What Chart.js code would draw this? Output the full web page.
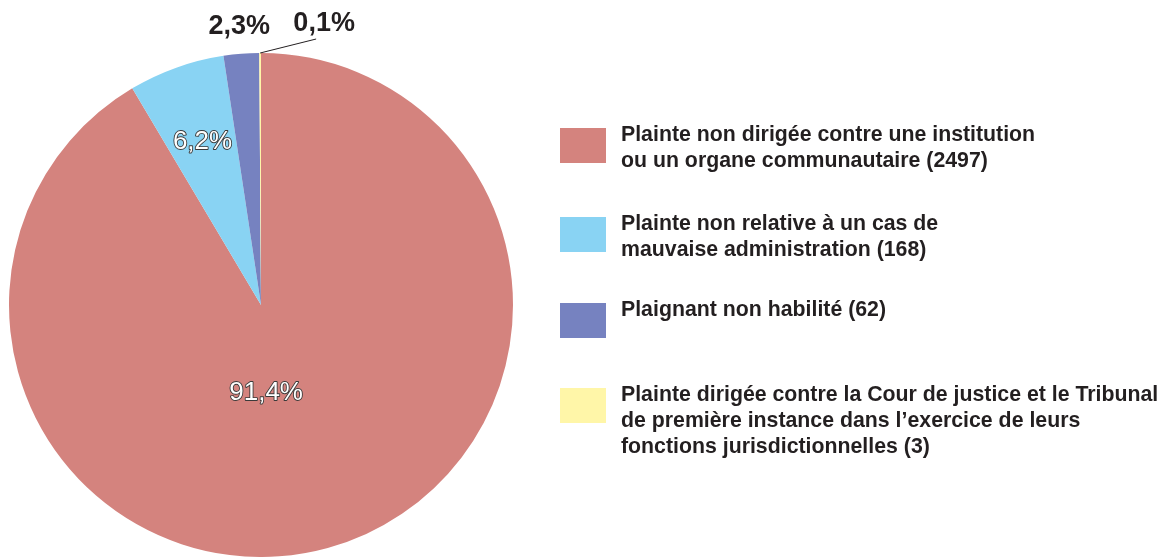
<!DOCTYPE html>
<html lang="fr">
<head>
  <meta charset="UTF-8">
  <title>Plaintes hors du mandat</title>
  <script src="https://cdn.jsdelivr.net/npm/chart.js"></script>
  <style>
    body {
      margin: 0;
      background: #ffffff;
    }
    #wrap {
      width: 1162px;
      height: 557px;
    }
  </style>
</head>
<body>
  <div id="wrap">
    <canvas id="pieChart" width="1162" height="557"></canvas>
  </div>

  <script>
    // data
    const categories = [
      ['Plainte non dirigée contre une institution', 'ou un organe communautaire (2497)'],
      ['Plainte non relative à un cas de', 'mauvaise administration (168)'],
      ['Plaignant non habilité (62)'],
      ['Plainte dirigée contre la Cour de justice et le Tribunal', 'de première instance dans l\u2019exercice de leurs', 'fonctions jurisdictionnelles (3)']
    ];
    const counts = [2497, 168, 62, 3];
    const percentLabels = ['91,4%', '6,2%', '2,3%', '0,1%'];
    const colors = ['#d4837e', '#89d3f3', '#7682c0', '#fff6a8'];

    const textColor = '#231f20';
    const fontFamily = '"Liberation Sans", Arial, Helvetica, sans-serif';

    // how each percentage is placed: inside (white, outlined) or outside (bold black)
    const labelStyle = [
      { inside: true, dist: 0.345, turn: 12 },
      { inside: true, dist: 0.69, turn: 0 },
      { inside: false, dist: 27, turn: 0 },
      { inside: false, leader: true }
    ];

    const sliceLabels = {
      id: 'sliceLabels',
      afterDatasetsDraw(chart) {
        const ctx = chart.ctx;
        const arcs = chart.getDatasetMeta(0).data;
        ctx.save();
        ctx.textAlign = 'center';
        ctx.textBaseline = 'middle';
        arcs.forEach((arc, i) => {
          const p = arc.getProps(['x', 'y', 'startAngle', 'endAngle', 'outerRadius']);
          const mid = (p.startAngle + p.endAngle) / 2;
          const st = labelStyle[i];
          if (st.inside) {
            const a = mid + st.turn * Math.PI / 180;
            const r = p.outerRadius * st.dist;
            const x = p.x + Math.cos(a) * r;
            const y = p.y + Math.sin(a) * r + 1;
            ctx.font = '26px ' + fontFamily;
            ctx.lineJoin = 'round';
            ctx.lineWidth = 1.8;
            ctx.strokeStyle = '#3a3a3a';
            ctx.strokeText(percentLabels[i], x, y);
            ctx.fillStyle = '#ffffff';
            ctx.fillText(percentLabels[i], x, y);
          } else if (st.leader) {
            const x0 = p.x + Math.cos(mid) * p.outerRadius;
            const y0 = p.y + Math.sin(mid) * p.outerRadius;
            ctx.strokeStyle = '#231f20';
            ctx.lineWidth = 1;
            ctx.beginPath();
            ctx.moveTo(x0, y0);
            ctx.lineTo(x0 + 56, y0 - 14);
            ctx.stroke();
            ctx.font = 'bold 27px ' + fontFamily;
            ctx.fillStyle = textColor;
            ctx.fillText(percentLabels[i], x0 + 64, y0 - 29);
          } else {
            const r = p.outerRadius + st.dist;
            const x = p.x + Math.cos(mid) * r;
            const y = p.y + Math.sin(mid) * r;
            ctx.font = 'bold 27px ' + fontFamily;
            ctx.fillStyle = textColor;
            ctx.fillText(percentLabels[i], x, y);
          }
        });
        ctx.restore();
      }
    };

    // legend on the right, multi-line labels
    const sideLegend = {
      id: 'sideLegend',
      afterDraw(chart) {
        const ctx = chart.ctx;
        const tops = [128, 217, 303, 388];
        ctx.save();
        ctx.textAlign = 'left';
        ctx.textBaseline = 'middle';
        ctx.font = 'bold 21.3px ' + fontFamily;
        categories.forEach((lines, i) => {
          ctx.fillStyle = colors[i];
          ctx.fillRect(560, tops[i], 46, 35);
          ctx.fillStyle = textColor;
          lines.forEach((line, j) => {
            ctx.fillText(line, 621, tops[i] + 7.5 + j * 26);
          });
        });
        ctx.restore();
      }
    };

    const ctx = document.getElementById('pieChart').getContext('2d');
    const pieChart = new Chart(ctx, {
      type: 'pie',
      data: {
        labels: categories.map(l => l.join(' ')),
        datasets: [{
          data: counts,
          backgroundColor: colors,
          borderWidth: 0
        }]
      },
      options: {
        responsive: false,
        animation: false,
        layout: {
          padding: { left: 9, top: 53, right: 649, bottom: 0 }
        },
        plugins: {
          legend: { display: false },
          tooltip: { enabled: false }
        }
      },
      plugins: [sliceLabels, sideLegend]
    });
  </script>
</body>
</html>
